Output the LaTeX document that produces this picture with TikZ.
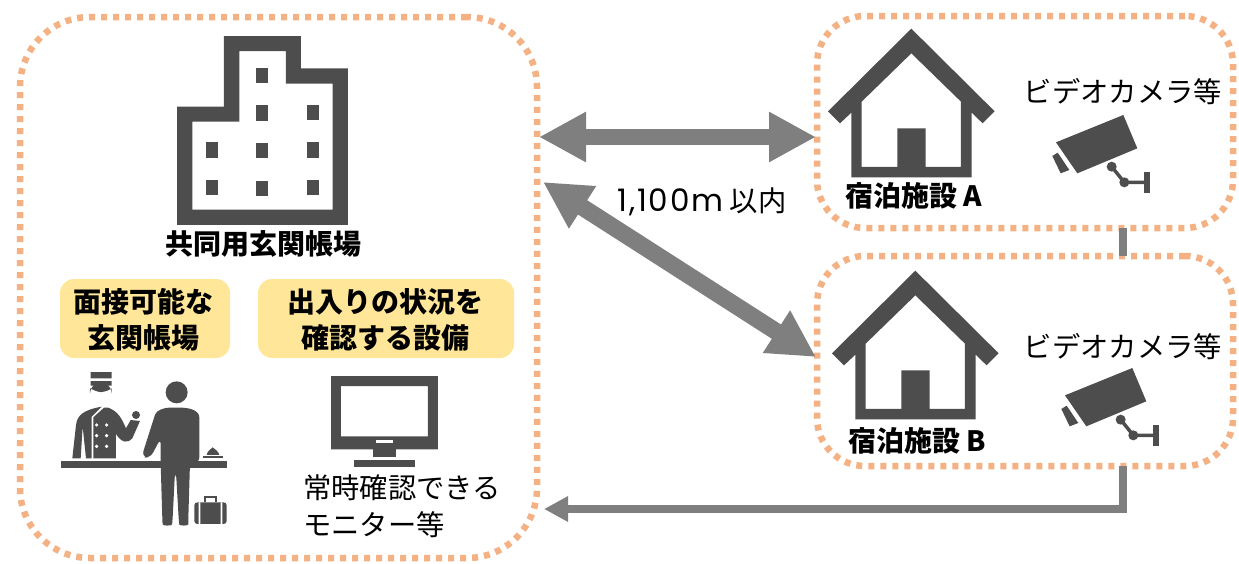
\documentclass[tikz,border=0pt]{standalone}
\usepackage{fontspec}
\setmainfont{Noto Sans CJK JP}
\newfontfamily\latinfont[LetterSpace=6]{Poppins}
\usetikzlibrary{arrows.meta}
\definecolor{dk}{HTML}{4D4D4D}
\definecolor{gr}{HTML}{7F7F7F}
\definecolor{og}{HTML}{F4B183}
\definecolor{yl}{HTML}{FFE699}
\tikzset{
 zone/.style={draw=og,line width=6.5pt,dash pattern=on 6pt off 6pt,outer sep=0pt,inner sep=0pt,anchor=north west},
 tag/.style={fill=yl,rounded corners=14pt,outer sep=0pt,inner sep=0pt,anchor=north west},
 lbl/.style={font=\fontsize{28.3}{37}\selectfont,text=black,inner sep=0pt,align=left},
 blbl/.style={font=\fontsize{28}{36}\bfseries\selectfont,text=black,inner sep=0pt,align=center},
 ic/.style={fill=dk,draw=none},
 link/.style={draw=gr,line width=16pt,{Triangle[length=47pt,width=47pt]}-{Triangle[length=47pt,width=47pt]}},
 thin link/.style={draw=gr,line width=8pt},
 zoomed/.style={x=0.3333pt,y=-0.3333pt},
}
\newcommand{\houseicon}[2]{%
\begin{scope}[shift={(#1,#2)},zoomed]
 \fill[ic,even odd rule] (274,26)--(524,274)--(488,310)--(455,278)--(455,472)--(94,472)--(94,278)--(60,310)--(24,274)--cycle
   (274,100)--(125,245)--(125,441)--(232,441)--(232,325)--(317,325)--(317,441)--(423,441)--(423,245)--cycle;
\end{scope}}
\newcommand{\cameraicon}[2]{%
\begin{scope}[shift={(#1,#2)},zoomed]
 \fill[ic] (108,127)--(310,45)--(352,145)--(172,220)--cycle;
 \fill[ic] (97,168)--(113,158)--(148,210)--(122,220)--cycle;
 \draw[dk,line width=3.5pt] (275,200)--(313,247)--(375,247);
 \fill[ic] (275,200) circle (15) (313,247) circle (15);
 \fill[ic] (372,217) rectangle (390,280);
\end{scope}}
\begin{document}
\begin{tikzpicture}[x=1pt,y=-1pt]
\useasboundingbox (0,0) rectangle (1239,563);
% zones
\node[zone,rounded corners=70pt,minimum width=517pt,minimum height=541pt] (main) at (20,17) {};
\node[zone,rounded corners=48pt,minimum width=416pt,minimum height=212pt] (za) at (817,16) {};
\node[zone,rounded corners=48pt,minimum width=416pt,minimum height=210pt] (zb) at (817,256) {};
% connectors
\coordinate (p1) at (539,137);
\coordinate (p2) at (816,137);
\coordinate (p3) at (543,182);
\coordinate (p4) at (816,357);
\draw[link] (p1)--(p2);
\draw[link,line width=17pt] (p3)--(p4);
\draw[thin link] (za.south -| 1123,0) -- (zb.north -| 1123,0);
\coordinate (q1) at (1123,466);
\coordinate (q2) at (1123,509);
\coordinate (q3) at (544,509);
\draw[thin link,-{Triangle[length=24pt,width=24pt]}] (q1)--(q2)--(q3);
% building
\begin{scope}[shift={(160,25)},zoomed]
 \fill[ic,even odd rule] (192,33)--(423,33)--(423,130)--(564,130)--(564,600)--(51,600)--(51,245)--(192,245)--cycle
  (238,78)--(238,290)--(97,290)--(97,554)--(518,554)--(518,176)--(378,176)--(378,78)--cycle;
 \foreach \x/\y in {307/151,307/264,458/262,157/375,307/377,458/375,157/488,307/490,458/488}
  \fill[ic] (\x-18,\y-23) rectangle (\x+18,\y+23);
\end{scope}
\node[blbl] (t1) at (263.5,244) {共同用玄関帳場};
% tags
\node[tag,minimum width=170pt,minimum height=79pt] (y1) at (60,279) {};
\node[tag,minimum width=256pt,minimum height=79pt] (y2) at (258,279) {};
\node[blbl] (t2) at (143,320) {面接可能な\\玄関帳場};
\node[blbl] (t3) at (385,320) {出入りの状況を\\確認する設備};
% concierge
\begin{scope}[shift={(40,360)},zoomed]
 \fill[ic] (152,36) rectangle (215,55) (152,63) rectangle (215,77);
 \fill[ic] (150,85) .. controls (180,100) and (190,100) .. (215,85) -- (215,100) arc (0:-180:32.5) -- cycle;
 \fill[ic] (97,295)--(108,195) .. controls (112,165) and (130,150) .. (185,140)--(155,170)--(155,295)--(138,295)--(128,200)--(122,295)--cycle;
 \fill[ic] (160,172)--(192,143)--(205,143) .. controls (235,155) and (245,175) .. (258,205)--(272,180)--(300,183)--(277,235) .. controls (265,250) and (245,250) .. (228,222)--(228,295)--(160,295)--cycle;
 \fill[ic] (288,165) circle (12);
 \foreach \x in {170,200} \foreach \y in {195,227,259} \fill[white] (\x,\y) circle (5.5);
 \fill[ic] (63,303) rectangle (560,325);
 \fill[ic] (410,97) circle (33);
 \fill[ic,rounded corners=6pt] (305,290)--(340,180) .. controls (350,150) and (375,143) .. (405,143) .. controls (445,143) and (478,150) .. (478,190)--(478,310)--(450,310)--(445,475) .. controls (445,498) and (418,498) .. (416,475)--(408,335)--(405,335)--(398,475) .. controls (396,498) and (368,498) .. (367,475)--(362,310)--(362,235)--(330,295)--cycle;
 \fill[ic] (500,285) .. controls (503,272) and (510,270) .. (518,262) .. controls (526,270) and (535,272) .. (538,285)--cycle;
 \fill[ic] (490,288) rectangle (548,295);
 \fill[ic,rounded corners=3pt] (463,427) rectangle (560,492);
 \fill[white] (476,427) rectangle (481,492) (542,427) rectangle (547,492);
 \draw[dk,line width=2pt] (496,427)--(496,411)--(528,411)--(528,427);
\end{scope}
% monitor
\begin{scope}[shift={(290,360)},zoomed]
 \fill[ic,even odd rule] (123,48) rectangle (444,268) (153,78) rectangle (414,229);
 \fill[white] (258,241) rectangle (309,249);
 \fill[ic] (248,268) rectangle (319,291);
 \fill[ic] (193,301) rectangle (374,320);
\end{scope}
\node[lbl,anchor=north west] (t4) at (303,474) {常時確認できる\\モニター等};
% houses
\houseicon{820}{20}
\houseicon{824}{262}
\node[blbl] (t5) at (914,196) {宿泊施設 A};
\node[blbl] (t6) at (917,441) {宿泊施設 B};
% cameras
\cameraicon{1020}{100}
\cameraicon{1029}{353}
\node[lbl] (t7) at (1123,92) {ビデオカメラ等};
\node[lbl] (t8) at (1123,347) {ビデオカメラ等};
\node[lbl] (t9) at (702,202) {{\latinfont\fontsize{31}{37}\selectfont 1,100m} 以内};
\end{tikzpicture}
\end{document}
